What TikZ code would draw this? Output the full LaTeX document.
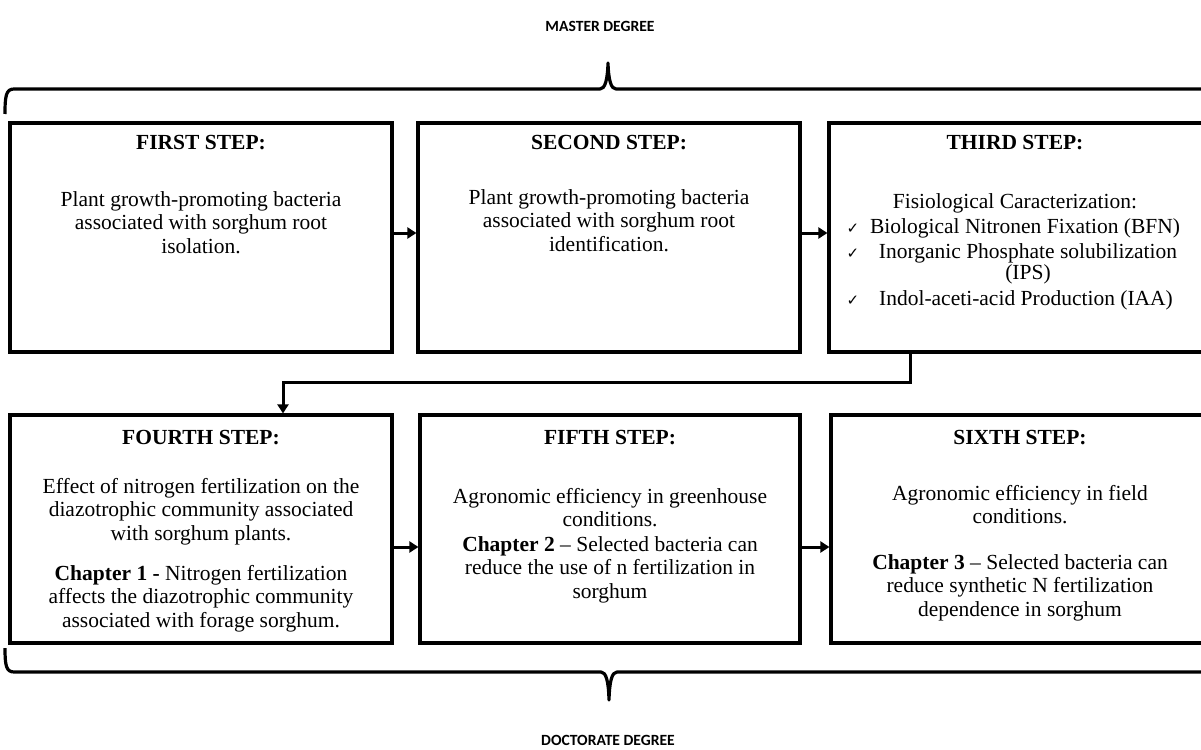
\documentclass[tikz,border=0pt]{standalone}
\usepackage{fontspec}
\setmainfont{Liberation Serif}
\newfontfamily\degfont{Carlito}
\newfontfamily\symfont{DejaVu Sans}
\usetikzlibrary{arrows.meta}
\tikzset{
  stepbox/.style={draw, line width=3.2pt, inner sep=0pt},
  txt/.style={inner sep=0pt, anchor=base, font=\fontsize{21.5}{23.5}\selectfont},
  ttl/.style={txt, font=\fontsize{21.5}{23.5}\selectfont\bfseries},
  deg/.style={inner sep=0pt, anchor=base, font=\fontsize{15.6}{18}\selectfont\degfont\bfseries},
  chk/.style={inner sep=0pt, anchor=base, font=\fontsize{15}{17}\selectfont\symfont},
  arr/.style={line width=3pt, -{Triangle[length=9pt,width=11pt]}},
  bracepath/.style={line width=3.2pt, line cap=butt, line join=round},
}
\newcommand\paralines[4]{%
  \foreach \ln [count=\i] in {#4} {
    \node[txt] (#1-\i) at (#2, {#3+(\i-1)*23.5}) {\ln};
  }}
\begin{document}
\begin{tikzpicture}[x=1pt,y=-1pt]
\useasboundingbox (0,0) rectangle (1201,749);
\clip (0,0) rectangle (1201,749);
\fill[white] (0,0) rectangle (1201,749);

% degree labels
\node[deg] (master) at (600,32) {MASTER DEGREE};
\node[deg] (doct) at (608,745) {DOCTORATE DEGREE};

% braces
\draw[bracepath] (5,114) .. controls (5,96) and (6,89) .. (14,89) -- (600,89)
  .. controls (605,89) and (607.5,80) .. (608,63)
  .. controls (608.5,80) and (611,89) .. (616,89) -- (1215,89);
\draw[bracepath] (5,648) .. controls (5,665) and (6,672) .. (14,672) -- (601,672)
  .. controls (606,672) and (608.5,681) .. (609,700)
  .. controls (609.5,681) and (612,672) .. (617,672) -- (1215,672);

% boxes
\node[stepbox, minimum width=382pt, minimum height=229pt] (b1) at (201,237.5) {};
\node[stepbox, minimum width=382pt, minimum height=229pt] (b2) at (609,237.5) {};
\node[stepbox, minimum width=382pt, minimum height=229pt] (b3) at (1020,237.5) {};
\node[stepbox, minimum width=382pt, minimum height=228pt] (b4) at (201,529) {};
\node[stepbox, minimum width=380pt, minimum height=228pt] (b5) at (610,529) {};
\node[stepbox, minimum width=382pt, minimum height=228pt] (b6) at (1022,529) {};

% box 1
\node[ttl] (t1) at (201,149) {FIRST STEP:};
\paralines{p1}{201}{206}{Plant growth-promoting bacteria, associated with sorghum root, isolation.}
% box 2
\node[ttl] (t2) at (609,149) {SECOND STEP:};
\paralines{p2}{609}{204}{Plant growth-promoting bacteria, associated with sorghum root, identification.}
% box 3
\node[ttl] (t3) at (1015,149) {THIRD STEP:};
\node[txt] (f3) at (1015,208) {Fisiological Caracterization:};
\node[chk] (c1) at (853,233) {✓};
\node[txt] (i1) at (1025,233) {Biological Nitronen Fixation (BFN)};
\node[chk] (c2) at (853,258) {✓};
\node[txt] (i2) at (1028,258) {Inorganic Phosphate solubilization};
\node[txt] (i2b) at (1028,279) {(IPS)};
\node[chk] (c3) at (853,305) {✓};
\node[txt] (i3) at (1026,305) {Indol-aceti-acid Production (IAA)};
% box 4
\node[ttl] (t4) at (201,444) {FOURTH STEP:};
\paralines{p4}{201}{493}{Effect of nitrogen fertilization on the, diazotrophic community associated, with sorghum plants.}
\paralines{q4}{201}{580}{\textbf{Chapter 1 -} Nitrogen fertilization, affects the diazotrophic community, associated with forage sorghum.}
% box 5
\node[ttl] (t5) at (610,444) {FIFTH STEP:};
\paralines{p5}{610}{503}{Agronomic efficiency in greenhouse, conditions.}
\paralines{q5}{610}{551}{\textbf{Chapter 2} – Selected bacteria can, reduce the use of n fertilization in, sorghum}
% box 6
\node[ttl] (t6) at (1020,444) {SIXTH STEP:};
\paralines{p6}{1020}{500}{Agronomic efficiency in field, conditions.}
\paralines{q6}{1020}{569}{\textbf{Chapter 3} – Selected bacteria can, reduce synthetic N fertilization, dependence in sorghum}

% arrows
\coordinate (r1) at (0,233);
\coordinate (r2) at (0,547);
\coordinate (k1) at (910,382);
\coordinate (k2) at (283,382);
\draw[arr] (b1.east |- r1) -- (b2.west |- r1);
\draw[arr] (b2.east |- r1) -- (b3.west |- r1);
\draw[arr] (b4.east |- r2) -- (b5.west |- r2);
\draw[arr] (b5.east |- r2) -- (b6.west |- r2);
\draw[arr, line join=miter] (b3.south -| k1) -- (k1) -- (k2) -- (b4.north -| k2);
\end{tikzpicture}
\end{document}
